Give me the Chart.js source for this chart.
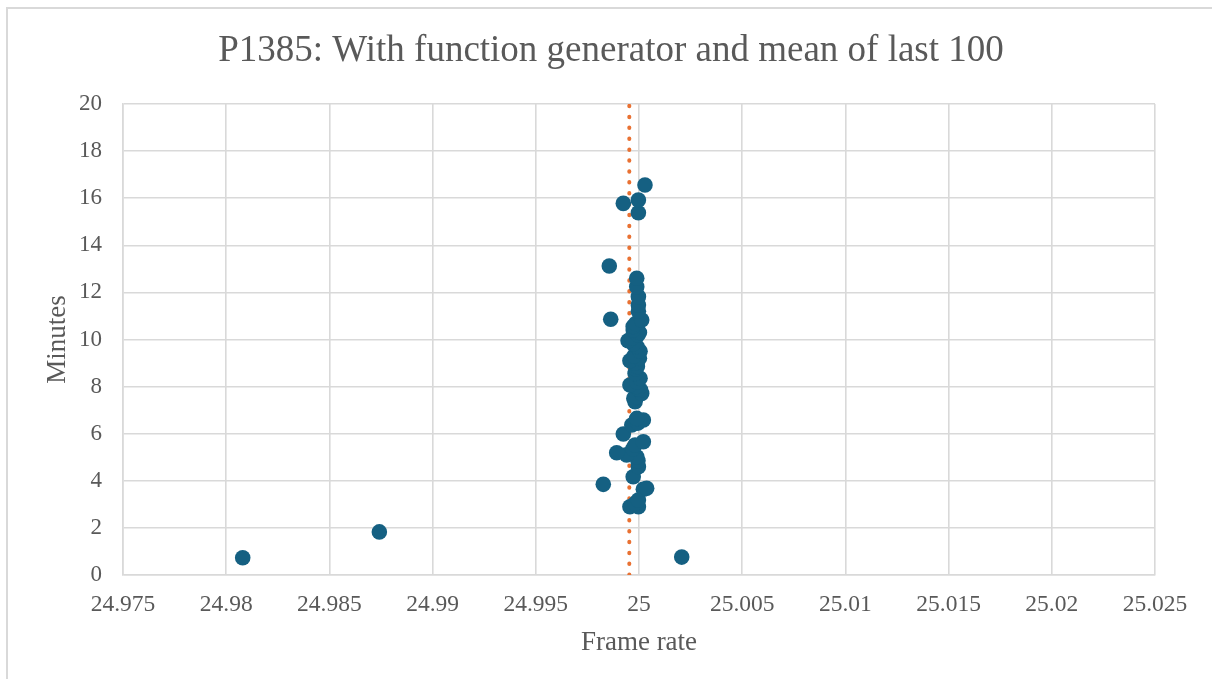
<!DOCTYPE html>
<html>
<head>
<meta charset="utf-8">
<script src="https://cdn.jsdelivr.net/npm/chart.js@4.4.1/dist/chart.umd.min.js"></script>
<style>
  html, body { margin: 0; padding: 0; background: #fff; overflow: hidden; }
  #wrap { position: relative; width: 1212px; height: 679px; }
  #frame {
    position: absolute; left: 6px; top: 7px; width: 1230px; height: 700px;
    border-left: 2px solid #d9d9d9; border-top: 2px solid #d9d9d9;
    pointer-events: none;
  }
</style>
</head>
<body>
<div id="wrap">
  <canvas id="rateChart" width="1212" height="679"></canvas>
  <div id="frame"></div>
</div>
<script>
// measured frame rate per sample vs. elapsed minutes
const frameRate = [
  24.9808, 24.98742, 25.00207,
  24.99956, 24.99997, 24.99981, 24.99997, 25.00021, 25.00037, 24.99827, 24.99972,
  24.99997, 24.99995, 24.99989, 24.9994, 24.99892, 24.9997, 24.99981, 25.00021,
  24.99924, 24.99965, 24.99995, 25.00021, 24.99989, 24.99981, 24.99975, 24.99989, 25.00013,
  25.00008, 24.99995, 24.99989, 24.99956, 24.9999, 25.00005, 24.99981, 24.99985, 24.99992,
  24.99981, 24.99956, 25.00002, 24.99976, 25.00005, 24.9999, 24.99972, 24.99947, 24.99965,
  24.99995, 25.00002, 24.99972, 24.99972, 24.99984, 25.00013, 24.99863, 24.99997,
  24.99997, 24.99997, 24.99989, 24.99856, 24.99997, 24.99924, 24.99997, 25.00029
];
const minutes = [
  0.73, 1.83, 0.76,
  2.90, 2.90, 3.04, 3.18, 3.64, 3.68, 3.85, 4.17,
  4.60, 4.85, 5.02, 5.10, 5.19, 5.35, 5.52, 5.66,
  5.99, 6.37, 6.45, 6.58, 6.65, 7.36, 7.50, 7.57, 7.71,
  7.85, 7.90, 8.00, 8.07, 8.20, 8.35, 8.56, 8.75, 8.85,
  8.99, 9.10, 9.20, 9.30, 9.50, 9.70, 9.82, 9.95, 10.06,
  10.20, 10.30, 10.40, 10.55, 10.68, 10.83, 10.86, 11.20,
  11.46, 11.82, 12.24, 13.12, 15.38, 15.78, 15.92, 16.56
];
const meanLast100 = 24.99953;

const xTicks = [24.975, 24.98, 24.985, 24.99, 24.995, 25, 25.005, 25.01, 25.015, 25.02, 25.025];
const yTicks = [0, 2, 4, 6, 8, 10, 12, 14, 16, 18, 20];

const points = frameRate.map((f, i) => ({ x: f, y: minutes[i] }));
points.push({ x: 24.99989, y: 12.60 });
const meanLine = [{ x: meanLast100, y: 0 }, { x: meanLast100, y: 20 }];

const serif = "'Liberation Serif', 'Times New Roman', serif";
const textGrey = '#595959';
const gridGrey = '#d9d9d9';

// centre the title over the whole canvas instead of the padded box
const titleOverCanvas = {
  id: 'titleOverCanvas',
  afterLayout(chart) {
    const t = chart.titleBlock;
    if (t) { t.left = 10; t.right = chart.width; }
  }
};

new Chart(document.getElementById('rateChart'), {
  type: 'scatter',
  data: {
    datasets: [{
      label: 'Frame rate',
      data: points,
      backgroundColor: '#156082',
      borderColor: '#156082',
      borderWidth: 0,
      pointRadius: 7.8,
      order: 1
    }, {
      type: 'line',
      label: 'Mean',
      data: meanLine,
      borderColor: '#e97132',
      borderWidth: 4,
      borderDash: [0.5, 10.4],
      borderCapStyle: 'round',
      pointRadius: 0,
      fill: false,
      order: 2
    }]
  },
  plugins: [titleOverCanvas],
  options: {
    responsive: false,
    animation: false,
    events: [],
    layout: { padding: { left: 0, top: 0, right: 57, bottom: 0 } },
    plugins: {
      legend: { display: false },
      tooltip: { enabled: false },
      title: {
        display: true,
        text: 'P1385: With function generator and mean of last 100',
        color: textGrey,
        font: { family: serif, size: 37, weight: 'normal', lineHeight: 1.2 },
        padding: { top: 29, bottom: 30.6 }
      }
    },
    scales: {
      x: {
        type: 'linear',
        min: 24.975,
        max: 25.025,
        afterBuildTicks: s => { s.ticks = xTicks.map(v => ({ value: v })); },
        afterFit: s => { s.height = 104; },
        ticks: {
          color: textGrey,
          font: { family: serif, size: 23.5 },
          padding: 16,
          maxRotation: 0,
          autoSkip: false,
          callback: v => String(v)
        },
        grid: { color: gridGrey, lineWidth: 1.6, drawTicks: false },
        border: { color: gridGrey, width: 1.6 },
        title: {
          display: true,
          text: 'Frame rate',
          color: textGrey,
          font: { family: serif, size: 27 },
          padding: { top: 0, bottom: 20 }
        }
      },
      y: {
        min: 0,
        max: 20,
        afterBuildTicks: s => { s.ticks = yTicks.map(v => ({ value: v })); },
        afterFit: s => { s.width = 123; },
        ticks: {
          color: textGrey,
          font: { family: serif, size: 23 },
          padding: 21,
          autoSkip: false
        },
        grid: { color: gridGrey, lineWidth: 1.6, drawTicks: false },
        border: { color: gridGrey, width: 1.6 },
        title: {
          display: true,
          text: 'Minutes',
          color: textGrey,
          font: { family: serif, size: 27 },
          padding: { top: 42, bottom: 0 }
        }
      }
    }
  }
});
</script>
</body>
</html>
